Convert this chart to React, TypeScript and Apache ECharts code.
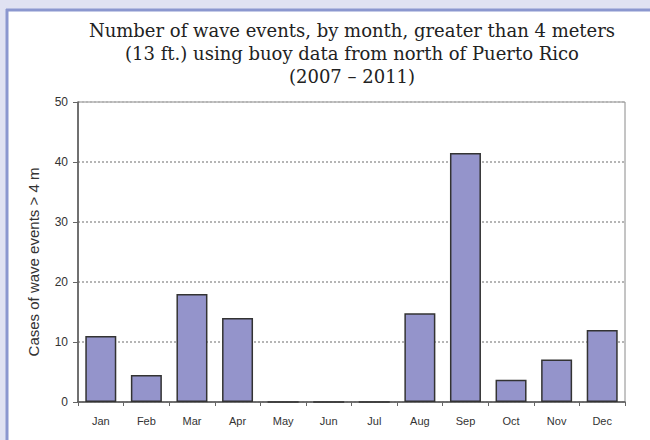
import React, { useEffect, useRef } from "react";
import * as echarts from "echarts";

const months = ["Jan", "Feb", "Mar", "Apr", "May", "Jun", "Jul", "Aug", "Sep", "Oct", "Nov", "Dec"];
const waveEvents = [11, 4.5, 18, 14, 0, 0, 0, 14.8, 41.5, 3.7, 7.1, 12];
const titleLines = [
  "Number of wave events, by month, greater than 4 meters",
  "(13 ft.) using buoy data from north of Puerto Rico",
  "(2007 – 2011)",
];
const yAxisTitle = "Cases of wave events > 4 m";

export default function App() {
  const ref = useRef<HTMLDivElement>(null);
  useEffect(() => {
    if (!ref.current) return;
    const chart = echarts.init(ref.current, undefined, { renderer: "svg" });
    chart.setOption({
      animation: false,
      backgroundColor: "#ffffff",
      graphic: [
        {
          type: "rect",
          silent: true,
          shape: { x: 0, y: 0, width: 6, height: 440 },
          style: { fill: "#e0e2f2" },
        },
        {
          type: "rect",
          silent: true,
          shape: { x: 0, y: 0, width: 650, height: 9 },
          style: { fill: "#e0e2f2" },
        },
        {
          type: "line",
          silent: true,
          shape: { x1: 6, y1: 10, x2: 650, y2: 10 },
          style: { stroke: "#8b97cf", lineWidth: 3 },
        },
        {
          type: "line",
          silent: true,
          shape: { x1: 7, y1: 9, x2: 7, y2: 440 },
          style: { stroke: "#8b97cf", lineWidth: 3 },
        },
        {
          type: "text",
          silent: true,
          x: 352,
          y: 19,
          style: {
            text: titleLines.join("\n"),
            textAlign: "center",
            textVerticalAlign: "top",
            font: "18px 'DejaVu Serif', serif",
            lineHeight: 23,
            fill: "#222222",
          },
        },
        {
          type: "text",
          silent: true,
          x: 33,
          y: 262,
          rotation: Math.PI / 2,
          style: {
            text: yAxisTitle,
            textAlign: "center",
            textVerticalAlign: "middle",
            font: "15px 'Liberation Sans', Arial, sans-serif",
            fill: "#333",
          },
        },
      ],
      grid: {
        left: 78,
        right: 25,
        top: 102,
        bottom: 38,
        show: true,
        borderColor: "#8a8a8a",
        borderWidth: 1,
        backgroundColor: "transparent",
      },
      xAxis: {
        type: "category",
        data: months,
        boundaryGap: true,
        axisLine: { lineStyle: { color: "#555", width: 1.5 } },
        axisTick: { show: true, length: 4, lineStyle: { color: "#666" } },
        axisLabel: {
          color: "#333",
          fontFamily: "'Liberation Sans', Arial, sans-serif",
          fontSize: 11,
          margin: 13,
        },
        splitLine: { show: false },
      },
      yAxis: {
        type: "value",
        min: 0,
        max: 50,
        interval: 10,
        axisLine: { show: true, lineStyle: { color: "#555", width: 1.5 } },
        axisTick: { show: true, length: 5, lineStyle: { color: "#666" } },
        axisLabel: {
          color: "#333",
          fontFamily: "'Liberation Sans', Arial, sans-serif",
          fontSize: 12,
          margin: 10,
        },
        splitLine: { show: true, lineStyle: { color: "#b5b5b5", type: "dotted", width: 2 } },
      },
      series: [
        {
          type: "bar",
          data: waveEvents,
          barCategoryGap: "32%",
          itemStyle: { color: "#9494cb", borderColor: "#333333", borderWidth: 1.5 },
        },
      ],
    });
    return () => chart.dispose();
  }, []);
  return <div ref={ref} style={{ position: "fixed", left: 0, top: 0, width: 650, height: 440 }} />;
}
